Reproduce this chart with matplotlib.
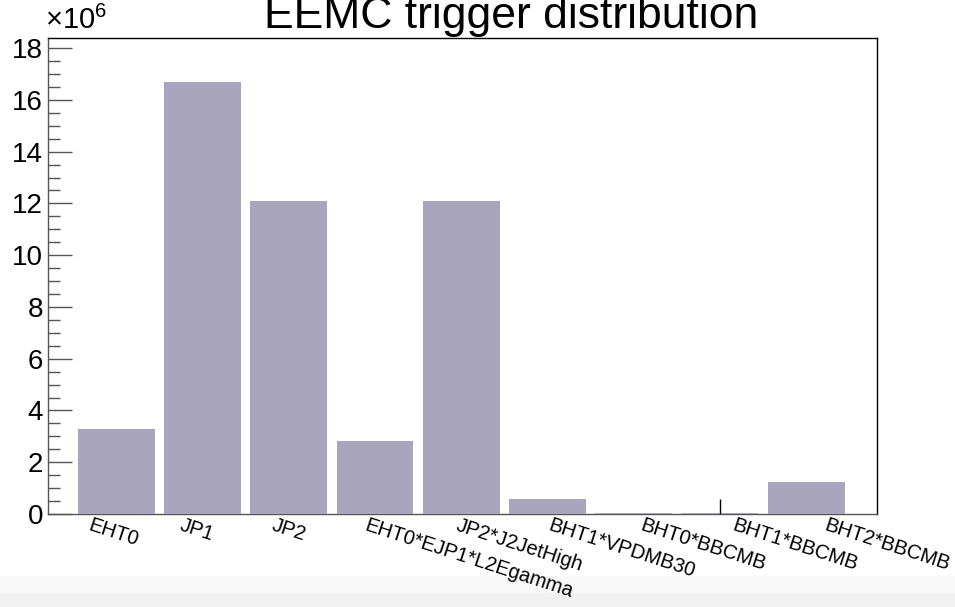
import matplotlib
matplotlib.use("Agg")
import matplotlib.pyplot as plt
import matplotlib.transforms as mtransforms
from matplotlib.patches import Rectangle
from matplotlib.ticker import MultipleLocator

plt.rcParams['font.family'] = ['Liberation Sans', 'DejaVu Sans']
plt.rcParams['mathtext.fontset'] = 'custom'
plt.rcParams['mathtext.rm'] = 'Liberation Sans'
plt.rcParams['mathtext.it'] = 'Liberation Sans'

# ---- data (counts in units of 1e6) ----
triggers = ["EHT0", "JP1", "JP2", "EHT0*EJP1*L2Egamma", "JP2*J2JetHigh",
            "BHT1*VPDMB30", "BHT0*BBCMB", "BHT1*BBCMB", "BHT2*BBCMB"]
counts = [3.28, 16.7, 12.08, 2.82, 12.08, 0.58, 0.05, 0.05, 1.24]
errors = [0, 0, 0, 0, 0, 0, 0, 0.58, 0]
y_ticks = [0, 2, 4, 6, 8, 10, 12, 14, 16, 18]

bar_color = "#aaa5bf"
axis_gray = "#555555"

fig = plt.figure(figsize=(9.55, 6.07), dpi=100)
W, H = 955, 607

# light bands at the bottom of the image (behind everything)
fig.patches.append(Rectangle((0, 0), 1, 31 / H, transform=fig.transFigure,
                             facecolor="#f8f8f8", edgecolor="none", zorder=-10))
fig.patches.append(Rectangle((0, 0), 1, 14 / H, transform=fig.transFigure,
                             facecolor="#f1f1f1", edgecolor="none", zorder=-9))

left, right, top, bottom = 48, 877, 38, 514
ax = fig.add_axes([left / W, 1 - bottom / H, (right - left) / W, (bottom - top) / H])
ax.set_facecolor("none")

idx = list(range(len(triggers)))
ax.bar(idx, counts, width=0.892, color=bar_color, edgecolor="none", zorder=3)
for i, (c, e) in enumerate(zip(counts, errors)):
    if e > 0:
        ax.vlines(i, 0, e, color="black", linewidth=1.0, zorder=4)

ax.set_xlim(-0.794, 8.823)
ax.set_ylim(0, 18.39)

ax.yaxis.set_major_locator(MultipleLocator(2))
ax.yaxis.set_minor_locator(MultipleLocator(0.5))
ax.set_yticks(y_ticks)
ax.set_yticklabels([str(v) for v in y_ticks], fontsize=20)
ax.tick_params(axis='y', which='major', direction='in', length=17, width=1.0,
               color=axis_gray, pad=3.5)
ax.tick_params(axis='y', which='minor', direction='in', length=8.5, width=1.0,
               color=axis_gray)
ax.set_xticks([])

for s in ['left', 'bottom']:
    ax.spines[s].set_color(axis_gray)
    ax.spines[s].set_linewidth(1.0)
for s in ['top', 'right']:
    ax.spines[s].set_color("black")
    ax.spines[s].set_linewidth(1.0)

# category labels: start at centres of 9 equal axis bins, rotated
trans = mtransforms.blended_transform_factory(ax.transAxes, ax.transAxes)
offset = mtransforms.ScaledTranslation(-2.5 / 100, -2 / 100, fig.dpi_scale_trans)
n = len(triggers)
for i, lab in enumerate(triggers):
    t = ax.text((i + 0.5) / n, 0, lab, transform=trans + offset, rotation=-18,
                rotation_mode='anchor', ha='left', va='top', fontsize=14.5)
    t.set_clip_on(False)

# exponent label
ax.annotate(r"$\times$10$^{6}$", xy=(0, 1), xycoords='axes fraction',
            xytext=(-3, 3), textcoords='offset pixels', ha='left', va='bottom',
            fontsize=21)

# title
fig.text(511 / W, 1 - 28 / H, "EEMC trigger distribution", ha='center',
         va='baseline', fontsize=32)

fig.savefig("out.png", dpi=100)
